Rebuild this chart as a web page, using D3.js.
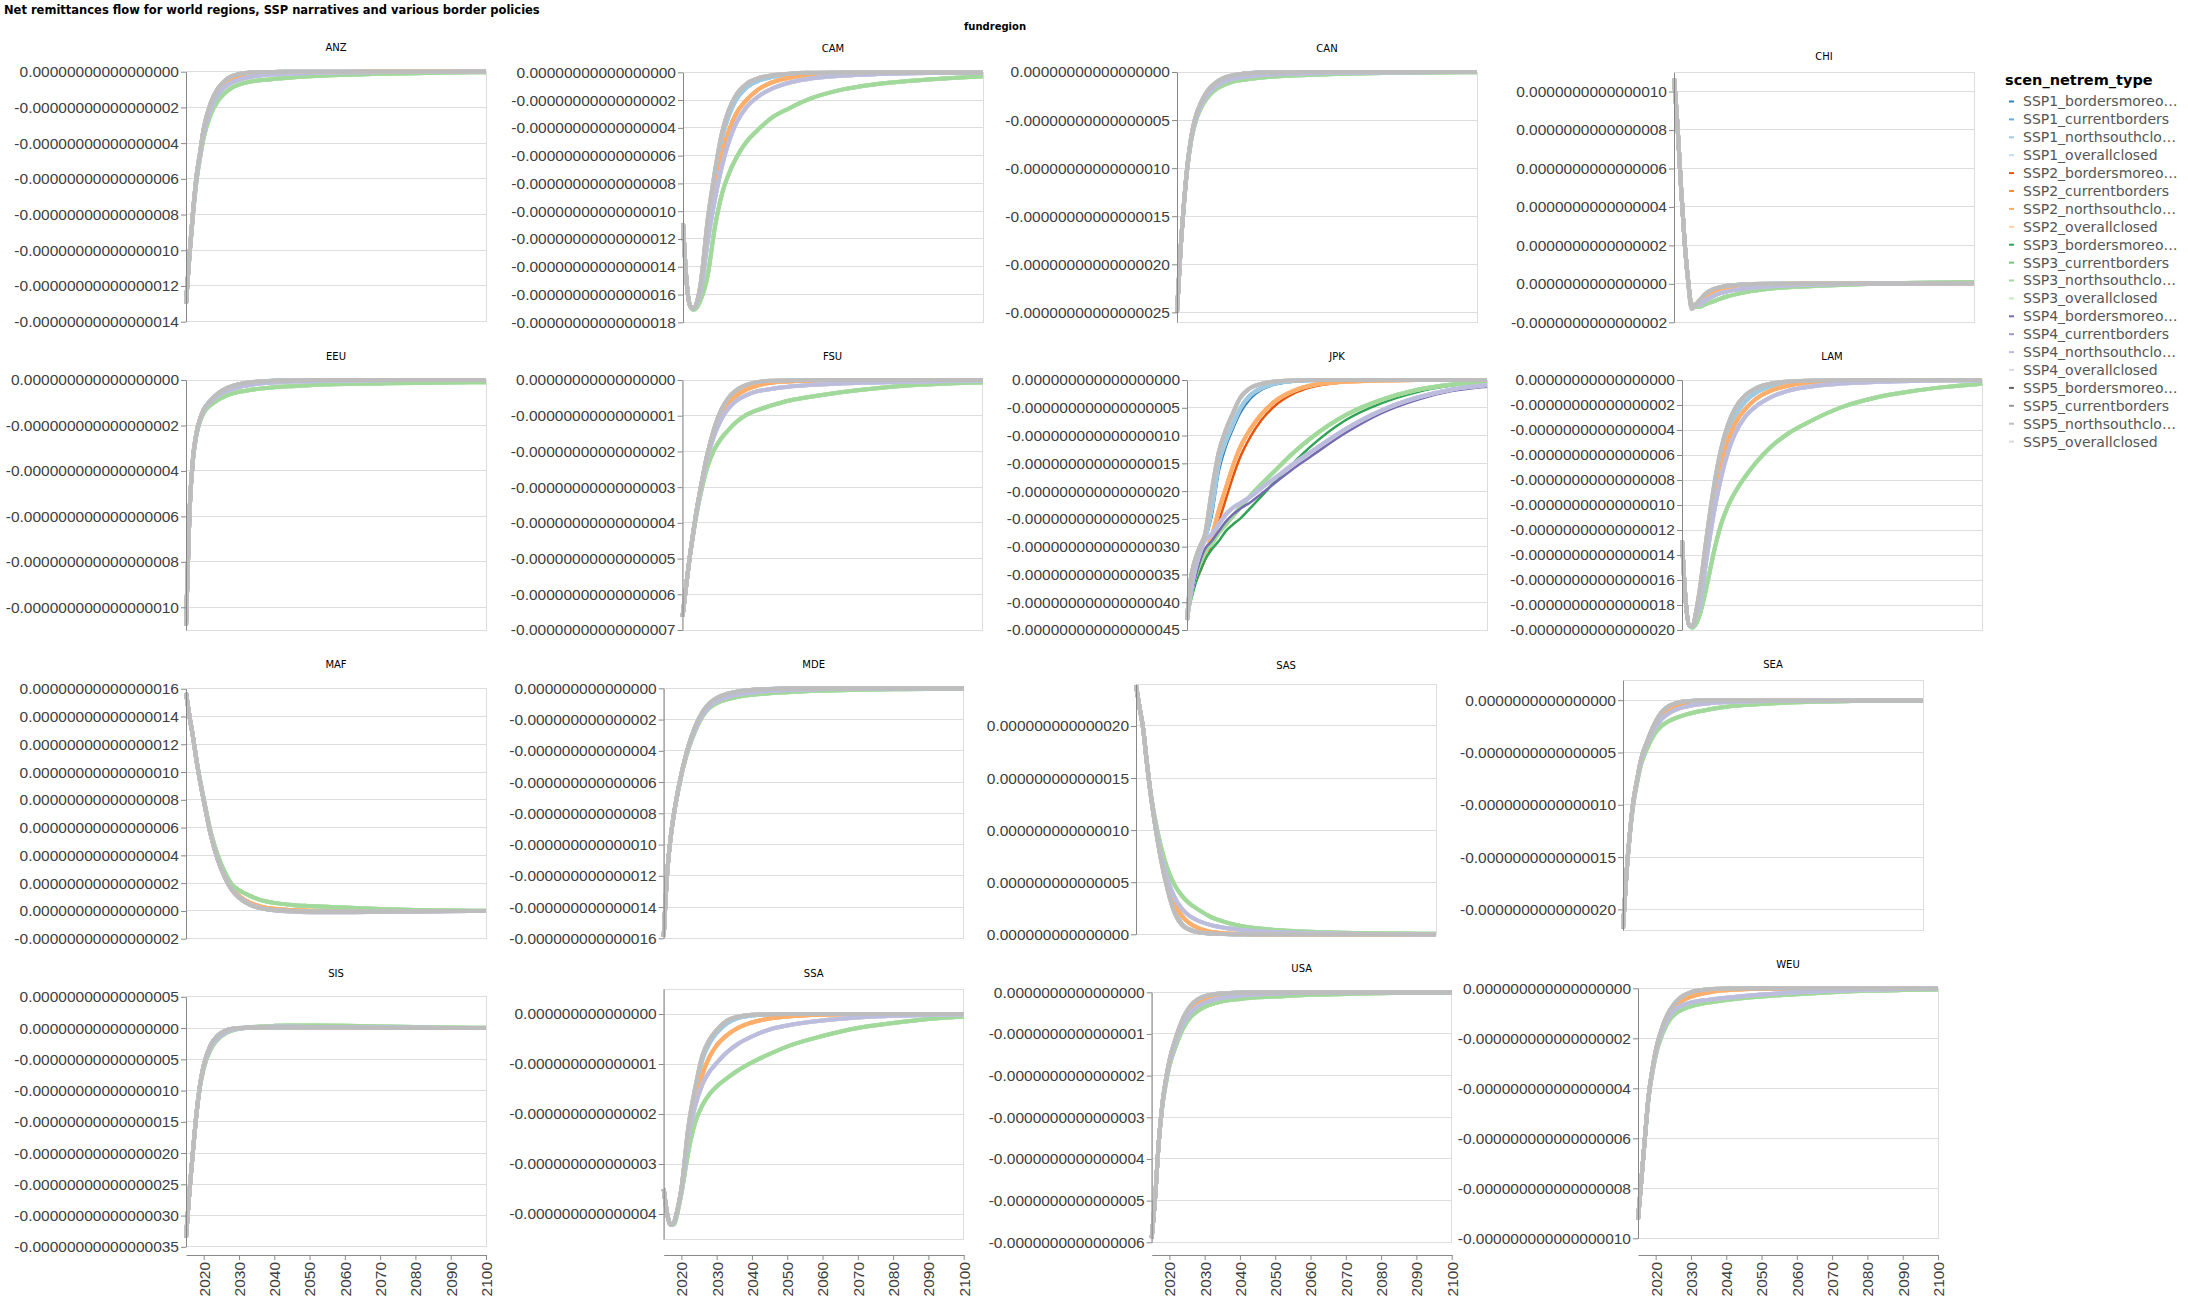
<!DOCTYPE html>
<html><head><meta charset="utf-8">
<script src="https://cdn.jsdelivr.net/npm/d3@7"></script>
<style>
body{margin:0;background:#fff;}
svg{display:block;font-family:"DejaVu Sans",Verdana,sans-serif;}
</style></head><body>
<svg id="chart" width="2188" height="1303"></svg>
<script>
// ---------- DATA ----------
// each region's arrays are expressed in that region's unit (REGION_UNIT)
const YEARS = [2015,2016,2017,2018,2019,2020, 2022,2024,2026,2028,2030,2033,2036, 2040,2045,2050,2060,2070,2080,2090,2100];
const X_TICKS = [2020,2030,2040,2050,2060,2070,2080,2090,2100];
const REGIONS = ["ANZ","CAM","CAN","CHI","EEU","FSU","JPK","LAM","MAF","MDE","SAS","SEA","SIS","SSA","USA","WEU"];
const REGION_UNIT = {ANZ:1e-16,CAM:1e-16,CAN:1e-16,CHI:1e-15,EEU:1e-17,FSU:1e-16,JPK:1e-17,LAM:1e-16,
  MAF:1e-16,MDE:1e-14,SAS:1e-14,SEA:1e-15,SIS:1e-16,SSA:1e-15,USA:1e-15,WEU:1e-17};
const SSPS = ["SSP1","SSP2","SSP3","SSP4","SSP5"];
const POLICIES = ["bordersmoreopen","currentborders","northsouthclosed","overallclosed"];
const LEGEND_LABELS = [
 "SSP1_bordersmoreo…","SSP1_currentborders","SSP1_northsouthclo…","SSP1_overallclosed",
 "SSP2_bordersmoreo…","SSP2_currentborders","SSP2_northsouthclo…","SSP2_overallclosed",
 "SSP3_bordersmoreo…","SSP3_currentborders","SSP3_northsouthclo…","SSP3_overallclosed",
 "SSP4_bordersmoreo…","SSP4_currentborders","SSP4_northsouthclo…","SSP4_overallclosed",
 "SSP5_bordersmoreo…","SSP5_currentborders","SSP5_northsouthclo…","SSP5_overallclosed"];

const ANZ_SSP1 = [-1.30,-1.02,-0.78,-0.58,-0.45,-0.32, -0.18,-0.10,-0.052,-0.027,-0.014,-0.006,-0.003, -0.001,0,0,0,0,0,0,0];
const ANZ_SSP2 = [-1.30,-1.02,-0.78,-0.59,-0.46,-0.33, -0.19,-0.115,-0.07,-0.045,-0.03,-0.017,-0.01, -0.006,-0.003,-0.002,-0.001,0,0,0,0];
const ANZ_SSP3 = [-1.30,-1.03,-0.80,-0.61,-0.48,-0.37, -0.24,-0.165,-0.12,-0.09,-0.072,-0.056,-0.048, -0.040,-0.032,-0.026,-0.018,-0.012,-0.008,-0.005,-0.003];
const ANZ_SSP4 = [-1.30,-1.02,-0.79,-0.60,-0.47,-0.35, -0.21,-0.13,-0.085,-0.06,-0.045,-0.03,-0.022, -0.015,-0.01,-0.007,-0.004,-0.002,-0.001,-0.001,0];
const ANZ_SSP5 = [-1.30,-1.02,-0.78,-0.58,-0.45,-0.32, -0.175,-0.095,-0.05,-0.025,-0.012,-0.005,-0.002, -0.001,0,0,0,0,0,0,0];

const CAM_SSP1 = [-1.09,-1.50,-1.68,-1.70,-1.65,-1.53, -1.09,-0.77,-0.48,-0.31,-0.20,-0.11,-0.065, -0.035,-0.018,-0.01,-0.003,-0.001,0,0,0];
const CAM_SSP2 = [-1.09,-1.50,-1.68,-1.70,-1.66,-1.56, -1.18,-0.86,-0.60,-0.42,-0.30,-0.20,-0.13, -0.075,-0.04,-0.02,-0.006,-0.002,0,0,0];
const CAM_SSP3 = [-1.09,-1.50,-1.68,-1.71,-1.69,-1.64, -1.46,-1.12,-0.88,-0.73,-0.62,-0.50,-0.42, -0.33,-0.26,-0.20,-0.125,-0.085,-0.06,-0.042,-0.028];
const CAM_SSP4 = [-1.09,-1.50,-1.68,-1.70,-1.66,-1.58, -1.22,-0.92,-0.68,-0.50,-0.37,-0.25,-0.18, -0.12,-0.075,-0.05,-0.025,-0.013,-0.007,-0.004,-0.002];
const CAM_SSP5 = [-1.09,-1.50,-1.68,-1.70,-1.65,-1.52, -1.06,-0.72,-0.44,-0.27,-0.165,-0.083,-0.045, -0.022,-0.01,-0.004,-0.001,0,0,0,0];

const CAN_SSP1 = [-2.50,-1.85,-1.35,-0.96,-0.69,-0.51, -0.31,-0.19,-0.115,-0.07,-0.045,-0.022,-0.011, -0.005,-0.002,-0.001,0,0,0,0,0];
const CAN_SSP2 = [-2.50,-1.85,-1.35,-0.96,-0.70,-0.52, -0.32,-0.20,-0.13,-0.085,-0.058,-0.035,-0.022, -0.013,-0.007,-0.004,-0.001,0,0,0,0];
const CAN_SSP3 = [-2.50,-1.86,-1.37,-0.98,-0.72,-0.55, -0.36,-0.25,-0.18,-0.14,-0.11,-0.085,-0.07, -0.055,-0.042,-0.033,-0.02,-0.012,-0.008,-0.005,-0.003];
const CAN_SSP4 = [-2.50,-1.85,-1.36,-0.97,-0.71,-0.53, -0.335,-0.22,-0.15,-0.105,-0.078,-0.055,-0.041, -0.03,-0.021,-0.015,-0.008,-0.004,-0.002,-0.001,0];
const CAN_SSP5 = [-2.50,-1.85,-1.35,-0.95,-0.68,-0.50, -0.30,-0.18,-0.11,-0.065,-0.04,-0.02,-0.01, -0.005,-0.002,0,0,0,0,0,0];

const CHI_SSP1 = [1.07,0.82,0.50,0.22,0.02,-0.12, -0.095,-0.055,-0.032,-0.02,-0.012,-0.006,-0.003, -0.001,0,0,0.001,0.002,0.002,0.003,0.003];
const CHI_SSP2 = [1.07,0.82,0.50,0.22,0.02,-0.11, -0.10,-0.065,-0.04,-0.026,-0.017,-0.01,-0.006, -0.003,-0.001,0,0.001,0.002,0.002,0.003,0.003];
const CHI_SSP3 = [1.07,0.82,0.50,0.22,0.02,-0.11, -0.12,-0.105,-0.092,-0.078,-0.066,-0.052,-0.04, -0.03,-0.02,-0.015,-0.007,-0.001,0.004,0.007,0.01];
const CHI_SSP4 = [1.07,0.82,0.50,0.22,0.02,-0.11, -0.11,-0.085,-0.065,-0.05,-0.04,-0.03,-0.022, -0.015,-0.01,-0.006,-0.002,0,0.002,0.003,0.004];
const CHI_SSP5 = [1.07,0.82,0.50,0.22,0.01,-0.13, -0.09,-0.05,-0.028,-0.017,-0.01,-0.005,-0.002, 0,0,0.001,0.002,0.002,0.003,0.003,0.003];

const EEU_SSP1 = [-1.08,-0.58,-0.34,-0.23,-0.17,-0.13, -0.09,-0.061,-0.041,-0.028,-0.019,-0.011,-0.007, -0.003,-0.001,0,0,0,0,0,0];
const EEU_SSP2 = [-1.08,-0.58,-0.34,-0.23,-0.17,-0.132, -0.093,-0.065,-0.046,-0.033,-0.024,-0.015,-0.01, -0.006,-0.003,-0.002,-0.001,0,0,0,0];
const EEU_SSP3 = [-1.08,-0.58,-0.35,-0.24,-0.18,-0.145, -0.11,-0.088,-0.072,-0.06,-0.052,-0.044,-0.038, -0.032,-0.027,-0.023,-0.018,-0.015,-0.013,-0.011,-0.01];
const EEU_SSP4 = [-1.08,-0.58,-0.345,-0.235,-0.172,-0.135, -0.097,-0.07,-0.052,-0.04,-0.031,-0.022,-0.016, -0.011,-0.007,-0.005,-0.003,-0.001,0,0,0];
const EEU_SSP5 = [-1.08,-0.58,-0.34,-0.23,-0.17,-0.13, -0.09,-0.06,-0.04,-0.027,-0.018,-0.01,-0.006, -0.003,-0.001,0,0,0,0,0,0];

const FSU_SSP1 = [-0.663,-0.58,-0.50,-0.43,-0.365,-0.31, -0.21,-0.14,-0.09,-0.058,-0.037,-0.02,-0.011, -0.005,-0.002,0,0,0,0,0,0];
const FSU_SSP2 = [-0.663,-0.58,-0.50,-0.43,-0.365,-0.31, -0.215,-0.145,-0.098,-0.066,-0.046,-0.027,-0.016, -0.008,-0.004,-0.002,-0.001,0,0,0,0];
const FSU_SSP3 = [-0.663,-0.58,-0.50,-0.435,-0.375,-0.325, -0.245,-0.195,-0.163,-0.14,-0.12,-0.098,-0.085, -0.072,-0.058,-0.049,-0.034,-0.023,-0.015,-0.01,-0.007];
const FSU_SSP4 = [-0.663,-0.58,-0.50,-0.43,-0.37,-0.315, -0.22,-0.155,-0.11,-0.08,-0.06,-0.043,-0.032, -0.025,-0.019,-0.015,-0.01,-0.007,-0.005,-0.003,-0.002];
const FSU_SSP5 = [-0.663,-0.58,-0.50,-0.43,-0.365,-0.31, -0.21,-0.135,-0.083,-0.05,-0.03,-0.014,-0.006, -0.002,-0.001,0,0,0,0,0,0];

const JPK_SSP1 = [-4.32,-3.65,-3.35,-3.15,-3.0,-2.85, -2.3,-1.5,-1.1,-0.8,-0.52,-0.27,-0.15, -0.06,-0.02,-0.006,0,0,0,0,0];
const JPK_SSP2 = [-4.32,-3.85,-3.6,-3.45,-3.3,-3.15, -2.82,-2.35,-1.95,-1.55,-1.22,-0.88,-0.62, -0.38,-0.2,-0.1,-0.03,-0.01,0,0,0];
const JPK_SSP3 = [-4.32,-3.9,-3.6,-3.4,-3.25,-3.1, -2.95,-2.75,-2.6,-2.45,-2.3,-2.08,-1.88, -1.63,-1.32,-1.05,-0.63,-0.36,-0.18,-0.08,-0.03];
const JPK_SSP4 = [-4.32,-3.85,-3.5,-3.25,-3.05,-2.9, -2.78,-2.6,-2.42,-2.3,-2.22,-2.1,-1.95, -1.76,-1.52,-1.3,-0.88,-0.55,-0.32,-0.17,-0.09];
const JPK_SSP5 = [-4.32,-3.6,-3.3,-3.1,-2.95,-2.8, -2.0,-1.3,-0.9,-0.6,-0.33,-0.14,-0.07, -0.025,-0.008,-0.002,0,0,0,0,0];
const JPK_SSP1_OPEN = [-4.32,-3.7,-3.4,-3.2,-3.05,-2.9, -2.45,-1.65,-1.2,-0.88,-0.6,-0.33,-0.18, -0.08,-0.03,-0.01,-0.002,0,0,0,0];
const JPK_SSP2_OPEN = [-4.32,-3.95,-3.7,-3.55,-3.4,-3.25, -2.95,-2.55,-2.15,-1.75,-1.4,-1.02,-0.73, -0.46,-0.25,-0.13,-0.04,-0.01,0,0,0];
const JPK_SSP3_OPEN = [-4.32,-4.0,-3.75,-3.55,-3.4,-3.25, -3.05,-2.9,-2.72,-2.6,-2.5,-2.3,-2.1, -1.82,-1.5,-1.2,-0.72,-0.42,-0.22,-0.1,-0.04];
const JPK_SSP4_OPEN = [-4.32,-3.95,-3.65,-3.4,-3.2,-3.05, -2.9,-2.72,-2.55,-2.42,-2.32,-2.2,-2.05, -1.85,-1.6,-1.38,-0.95,-0.6,-0.36,-0.2,-0.12];

const LAM_SSP1 = [-1.28,-1.75,-1.96,-1.97,-1.86,-1.70, -1.28,-0.90,-0.62,-0.42,-0.29,-0.17,-0.10, -0.05,-0.022,-0.01,-0.003,-0.001,0,0,0];
const LAM_SSP2 = [-1.28,-1.75,-1.96,-1.97,-1.88,-1.79, -1.37,-1.0,-0.70,-0.49,-0.35,-0.23,-0.15, -0.087,-0.046,-0.023,-0.007,-0.002,0,0,0];
const LAM_SSP3 = [-1.28,-1.75,-1.96,-1.98,-1.95,-1.88, -1.65,-1.38,-1.16,-1.01,-0.90,-0.77,-0.66, -0.54,-0.43,-0.35,-0.22,-0.14,-0.09,-0.055,-0.03];
const LAM_SSP4 = [-1.28,-1.75,-1.96,-1.97,-1.89,-1.81, -1.42,-1.07,-0.79,-0.58,-0.43,-0.29,-0.21, -0.14,-0.087,-0.058,-0.029,-0.015,-0.008,-0.005,-0.002];
const LAM_SSP5 = [-1.28,-1.75,-1.96,-1.97,-1.85,-1.68, -1.25,-0.86,-0.56,-0.36,-0.23,-0.12,-0.065, -0.03,-0.012,-0.005,-0.001,0,0,0,0];

const MAF_SSP1 = [1.57,1.40,1.25,1.08,0.93,0.80, 0.55,0.37,0.245,0.155,0.1,0.048,0.022, 0.007,0.001,-0.003,-0.004,-0.003,-0.002,-0.001,0];
const MAF_SSP2 = [1.57,1.40,1.25,1.08,0.93,0.80, 0.555,0.38,0.255,0.165,0.11,0.06,0.033, 0.015,0.006,0.002,0,0,0,0,0];
const MAF_SSP3 = [1.57,1.40,1.25,1.08,0.94,0.81, 0.57,0.40,0.28,0.19,0.15,0.11,0.08, 0.058,0.043,0.035,0.024,0.014,0.007,0.003,0.001];
const MAF_SSP4 = [1.57,1.40,1.25,1.08,0.93,0.80, 0.55,0.37,0.245,0.155,0.1,0.05,0.022, 0.005,-0.005,-0.009,-0.01,-0.007,-0.004,-0.002,-0.001];
const MAF_SSP5 = [1.57,1.40,1.25,1.08,0.93,0.80, 0.55,0.37,0.24,0.15,0.095,0.045,0.02, 0.006,0,-0.004,-0.005,-0.003,-0.002,-0.001,0];

const MDE_SSP1 = [-1.59,-1.18,-0.95,-0.79,-0.66,-0.55, -0.37,-0.245,-0.155,-0.1,-0.066,-0.038,-0.022, -0.011,-0.005,-0.002,0,0,0,0,0];
const MDE_SSP2 = [-1.59,-1.18,-0.95,-0.79,-0.66,-0.55, -0.375,-0.255,-0.165,-0.11,-0.077,-0.048,-0.03, -0.017,-0.009,-0.005,-0.002,-0.001,0,0,0];
const MDE_SSP3 = [-1.59,-1.18,-0.95,-0.79,-0.67,-0.56, -0.39,-0.27,-0.18,-0.125,-0.095,-0.07,-0.055, -0.042,-0.032,-0.025,-0.016,-0.01,-0.006,-0.004,-0.002];
const MDE_SSP4 = [-1.59,-1.18,-0.95,-0.79,-0.665,-0.555, -0.38,-0.26,-0.17,-0.115,-0.083,-0.056,-0.04, -0.027,-0.017,-0.011,-0.005,-0.002,-0.001,0,0];
const MDE_SSP5 = [-1.59,-1.18,-0.95,-0.79,-0.66,-0.55, -0.37,-0.24,-0.15,-0.095,-0.062,-0.035,-0.02, -0.01,-0.004,-0.001,0,0,0,0,0];

const SAS_SSP1 = [2.39,2.18,1.98,1.67,1.38,1.14, 0.74,0.44,0.22,0.1,0.05,0.02,0.008, 0.002,0,0,0,0,0,0,0];
const SAS_SSP2 = [2.39,2.18,1.98,1.67,1.39,1.15, 0.76,0.48,0.29,0.175,0.11,0.055,0.025, 0.01,0.004,0.001,0,0,0,0,0];
const SAS_SSP3 = [2.39,2.18,1.98,1.68,1.40,1.18, 0.85,0.62,0.47,0.37,0.30,0.23,0.17, 0.12,0.078,0.055,0.03,0.018,0.011,0.007,0.005];
const SAS_SSP4 = [2.39,2.18,1.98,1.67,1.39,1.16, 0.78,0.52,0.35,0.245,0.18,0.125,0.09, 0.062,0.042,0.028,0.014,0.007,0.004,0.002,0.001];
const SAS_SSP5 = [2.39,2.18,1.98,1.67,1.38,1.14, 0.73,0.42,0.20,0.09,0.045,0.018,0.007, 0.002,0,0,0,0,0,0,0];

const SEA_SSP1 = [-2.18,-1.65,-1.25,-0.95,-0.76,-0.58, -0.38,-0.225,-0.115,-0.058,-0.03,-0.012,-0.005, -0.001,0,0,0,0,0,0,0];
const SEA_SSP2 = [-2.18,-1.65,-1.25,-0.95,-0.76,-0.59, -0.40,-0.25,-0.15,-0.09,-0.055,-0.028,-0.015, -0.007,-0.003,-0.001,0,0,0,0,0];
const SEA_SSP3 = [-2.18,-1.66,-1.27,-0.98,-0.79,-0.63, -0.45,-0.32,-0.245,-0.2,-0.17,-0.135,-0.11, -0.085,-0.06,-0.045,-0.026,-0.015,-0.009,-0.005,-0.003];
const SEA_SSP4 = [-2.18,-1.65,-1.26,-0.96,-0.77,-0.60, -0.41,-0.27,-0.18,-0.125,-0.09,-0.06,-0.042, -0.028,-0.018,-0.012,-0.006,-0.003,-0.001,0,0];
const SEA_SSP5 = [-2.18,-1.65,-1.25,-0.95,-0.76,-0.58, -0.38,-0.22,-0.11,-0.055,-0.028,-0.01,-0.004, -0.001,0,0,0,0,0,0,0];

const SIS_SSP1 = [-3.35,-2.6,-1.95,-1.35,-0.9,-0.6, -0.27,-0.12,-0.05,-0.015,0,0.008,0.01, 0.01,0.008,0.006,0.004,0.002,0.001,0,0];
const SIS_SSP2 = [-3.35,-2.6,-1.95,-1.35,-0.9,-0.61, -0.29,-0.14,-0.065,-0.025,-0.005,0.008,0.014, 0.016,0.016,0.014,0.01,0.006,0.003,0.002,0.001];
const SIS_SSP3 = [-3.35,-2.6,-1.96,-1.37,-0.93,-0.65, -0.34,-0.18,-0.09,-0.04,-0.01,0.01,0.025, 0.035,0.04,0.04,0.035,0.025,0.015,0.008,0.004];
const SIS_SSP4 = [-3.35,-2.6,-1.95,-1.36,-0.91,-0.62, -0.31,-0.16,-0.075,-0.03,-0.008,0.008,0.016, 0.02,0.02,0.018,0.013,0.008,0.004,0.002,0.001];
const SIS_SSP5 = [-3.35,-2.6,-1.95,-1.35,-0.9,-0.6, -0.27,-0.12,-0.045,-0.012,0,0.006,0.008, 0.008,0.006,0.005,0.003,0.002,0.001,0,0];

const SSA_SSP1 = [-3.5,-4.0,-4.22,-4.15,-3.88,-3.5, -2.3,-1.52,-0.9,-0.58,-0.38,-0.18,-0.08, -0.03,-0.01,-0.003,0,0,0,0,0];
const SSA_SSP2 = [-3.5,-4.0,-4.22,-4.16,-3.9,-3.55, -2.4,-1.7,-1.2,-0.85,-0.63,-0.42,-0.28, -0.17,-0.09,-0.05,-0.015,-0.005,0,0,0];
const SSA_SSP3 = [-3.5,-4.0,-4.22,-4.2,-3.95,-3.6, -2.75,-2.15,-1.82,-1.6,-1.45,-1.28,-1.13, -0.97,-0.8,-0.65,-0.44,-0.28,-0.18,-0.1,-0.05];
const SSA_SSP4 = [-3.5,-4.0,-4.22,-4.16,-3.9,-3.56, -2.45,-1.82,-1.4,-1.15,-0.98,-0.76,-0.6, -0.45,-0.31,-0.23,-0.13,-0.07,-0.035,-0.018,-0.01];
const SSA_SSP5 = [-3.5,-4.0,-4.22,-4.15,-3.88,-3.5, -2.25,-1.45,-0.82,-0.51,-0.32,-0.13,-0.055, -0.015,-0.004,0,0,0,0,0,0];

const USA_SSP1 = [-0.59,-0.49,-0.36,-0.27,-0.21,-0.165, -0.106,-0.062,-0.034,-0.019,-0.01,-0.005,-0.002, -0.001,0,0,0,0,0,0,0];
const USA_SSP2 = [-0.59,-0.49,-0.36,-0.27,-0.212,-0.168, -0.11,-0.068,-0.04,-0.024,-0.015,-0.008,-0.004, -0.002,-0.001,0,0,0,0,0,0];
const USA_SSP3 = [-0.59,-0.49,-0.36,-0.275,-0.22,-0.178, -0.125,-0.085,-0.06,-0.045,-0.035,-0.026,-0.02, -0.016,-0.012,-0.01,-0.006,-0.004,-0.002,-0.001,-0.001];
const USA_SSP4 = [-0.59,-0.49,-0.36,-0.272,-0.215,-0.172, -0.115,-0.075,-0.05,-0.034,-0.025,-0.017,-0.012, -0.008,-0.005,-0.003,-0.001,0,0,0,0];
const USA_SSP5 = [-0.59,-0.49,-0.36,-0.27,-0.21,-0.165, -0.105,-0.06,-0.032,-0.017,-0.009,-0.004,-0.002, -0.001,0,0,0,0,0,0,0];

const WEU_SSP1 = [-0.925,-0.76,-0.59,-0.43,-0.33,-0.25, -0.155,-0.095,-0.058,-0.035,-0.02,-0.01,-0.005, -0.002,0,0,0,0,0,0,0];
const WEU_SSP2 = [-0.925,-0.76,-0.59,-0.43,-0.335,-0.255, -0.16,-0.1,-0.065,-0.046,-0.034,-0.022,-0.014, -0.008,-0.004,-0.002,0,0,0,0,0];
const WEU_SSP3 = [-0.925,-0.76,-0.595,-0.44,-0.345,-0.27, -0.18,-0.125,-0.097,-0.082,-0.072,-0.062,-0.055, -0.047,-0.039,-0.033,-0.024,-0.016,-0.01,-0.007,-0.005];
const WEU_SSP4 = [-0.925,-0.76,-0.59,-0.435,-0.34,-0.26, -0.165,-0.11,-0.08,-0.065,-0.057,-0.049,-0.044, -0.038,-0.031,-0.025,-0.016,-0.01,-0.006,-0.003,-0.002];
const WEU_SSP5 = [-0.925,-0.76,-0.59,-0.43,-0.33,-0.25, -0.15,-0.088,-0.05,-0.028,-0.015,-0.007,-0.003, -0.001,0,0,0,0,0,0,0];

// table built from the arrays
const DATA = {
  ANZ:[ANZ_SSP1,ANZ_SSP2,ANZ_SSP3,ANZ_SSP4,ANZ_SSP5], CAM:[CAM_SSP1,CAM_SSP2,CAM_SSP3,CAM_SSP4,CAM_SSP5],
  CAN:[CAN_SSP1,CAN_SSP2,CAN_SSP3,CAN_SSP4,CAN_SSP5], CHI:[CHI_SSP1,CHI_SSP2,CHI_SSP3,CHI_SSP4,CHI_SSP5],
  EEU:[EEU_SSP1,EEU_SSP2,EEU_SSP3,EEU_SSP4,EEU_SSP5], FSU:[FSU_SSP1,FSU_SSP2,FSU_SSP3,FSU_SSP4,FSU_SSP5],
  JPK:[JPK_SSP1,JPK_SSP2,JPK_SSP3,JPK_SSP4,JPK_SSP5], LAM:[LAM_SSP1,LAM_SSP2,LAM_SSP3,LAM_SSP4,LAM_SSP5],
  MAF:[MAF_SSP1,MAF_SSP2,MAF_SSP3,MAF_SSP4,MAF_SSP5], MDE:[MDE_SSP1,MDE_SSP2,MDE_SSP3,MDE_SSP4,MDE_SSP5],
  SAS:[SAS_SSP1,SAS_SSP2,SAS_SSP3,SAS_SSP4,SAS_SSP5], SEA:[SEA_SSP1,SEA_SSP2,SEA_SSP3,SEA_SSP4,SEA_SSP5],
  SIS:[SIS_SSP1,SIS_SSP2,SIS_SSP3,SIS_SSP4,SIS_SSP5], SSA:[SSA_SSP1,SSA_SSP2,SSA_SSP3,SSA_SSP4,SSA_SSP5],
  USA:[USA_SSP1,USA_SSP2,USA_SSP3,USA_SSP4,USA_SSP5], WEU:[WEU_SSP1,WEU_SSP2,WEU_SSP3,WEU_SSP4,WEU_SSP5]
};
const OPEN_DATA = { JPK:[JPK_SSP1_OPEN,JPK_SSP2_OPEN,JPK_SSP3_OPEN,JPK_SSP4_OPEN,null] };

// ---------- LAYOUT / STYLE ----------
const Y_DOMAINS = {ANZ:[-1.4,0],CAM:[-1.8,0],CAN:[-2.6,0],CHI:[-0.2,1.1],EEU:[-1.1,0],FSU:[-0.7,0],JPK:[-4.5,0],LAM:[-2.0,0],
  MAF:[-0.2,1.6],MDE:[-1.6,0],SAS:[0,2.4],SEA:[-2.2,0.19],SIS:[-3.5,0.5],SSA:[-4.5,0.5],USA:[-0.6,0],WEU:[-1.0,0]};
const LAYOUT = {
  ANZ:{x:186,y:71.7,ty:47.5}, CAM:{x:683,y:72.3,ty:48}, CAN:{x:1177,y:72,ty:48}, CHI:{x:1674,y:72.3,ty:56.5},
  EEU:{x:186,y:380,ty:356.5}, FSU:{x:682.5,y:380,ty:356.5}, JPK:{x:1187,y:380,ty:356.7}, LAM:{x:1682,y:380,ty:356.5},
  MAF:{x:186,y:688.7,ty:664.6}, MDE:{x:663.7,y:688.3,ty:664.6}, SAS:{x:1136,y:684.3,ty:665}, SEA:{x:1623,y:680.3,ty:664.6},
  SIS:{x:186,y:996.8,ty:973}, SSA:{x:663.7,y:989,ty:973}, USA:{x:1151.7,y:992.3,ty:968.3}, WEU:{x:1638,y:988.3,ty:964.6}
};
const BOTTOM_ROW = ["SIS","SSA","USA","WEU"];
const X_AXIS_Y = 1255;
const W = 300, H = 250;
const AXIS_FONT = '"Liberation Sans",Arial,sans-serif';
const COLORS = ["#3182bd","#6baed6","#9ecae1","#c6dbef","#e6550d","#fd8d3c","#fdae6b","#fdd0a2",
  "#31a354","#74c476","#a1d99b","#c7e9c0","#756bb1","#9e9ac8","#bcbddc","#dadaeb",
  "#636363","#969696","#bdbdbd","#d9d9d9"];
const DRAW_ORDER = [0,1,3,2];

Object.values(DATA).forEach(a=>a.forEach(s=>{ if(s.length!==YEARS.length) throw new Error("bad length"); }));

const locale = d3.formatLocale({decimal:".",thousands:",",grouping:[3],currency:["$",""],minus:"-"});

const svg = d3.select("#chart");
svg.append("rect").attr("width",2188).attr("height",1303).attr("fill","#fff");

svg.append("text").attr("x",4).attr("y",14).attr("font-size",11.5).attr("font-weight","bold").attr("fill","#000")
  .text("Net remittances flow for world regions, SSP narratives and various border policies");
svg.append("text").attr("x",995).attr("y",30).attr("text-anchor","middle").attr("font-size",10).attr("font-weight","bold").attr("fill","#000")
  .text("fundregion");

const x = d3.scaleLinear().domain([2015,2100]).range([0,W]);

REGIONS.forEach(r => {
  const L = LAYOUT[r];
  const unit = REGION_UNIT[r];
  const dom = Y_DOMAINS[r];
  const y = d3.scaleLinear().domain(dom).range([H,0]);
  const ticks = y.ticks(7);
  const prec = d3.precisionFixed(d3.tickStep(dom[0], dom[1], 7) * unit);
  const f = locale.format(`.${prec}f`);
  const fmt = v => f(v === 0 ? 0 : v * unit);

  const g = svg.append("g").attr("transform",`translate(${L.x},${L.y})`);
  g.selectAll("line.grid").data(ticks).join("line").attr("class","grid")
    .attr("x1",0).attr("x2",W).attr("y1",d=>y(d)).attr("y2",d=>y(d))
    .attr("stroke","#ddd").attr("stroke-width",1).attr("shape-rendering","crispEdges");
  g.append("rect").attr("width",W).attr("height",H).attr("fill","none").attr("stroke","#ddd").attr("shape-rendering","crispEdges");

  const line = d3.line().x((d,i)=>x(YEARS[i])).y(d=>y(d)).curve(d3.curveMonotoneX);
  SSPS.forEach((ssp,si)=>{
    DRAW_ORDER.forEach(pi=>{
      const open = OPEN_DATA[r] && OPEN_DATA[r][si];
      const vals = (pi===0 && open) ? open : DATA[r][si];
      g.append("path").attr("d",line(vals)).attr("fill","none")
        .attr("stroke",COLORS[si*4+pi]).attr("stroke-width", pi===0 ? 2.5 : 4)
        .attr("stroke-linejoin","round");
    });
  });

  const ax = g.append("g").call(d3.axisLeft(y).tickValues(ticks).tickSize(5).tickSizeOuter(0).tickPadding(2).tickFormat(fmt));
  ax.select(".domain").attr("stroke","#888");
  ax.selectAll(".tick line").attr("stroke","#888");
  ax.selectAll(".tick text").attr("font-size",15.5).attr("fill","#404040").attr("font-family",AXIS_FONT);

  svg.append("text").attr("x",L.x+W/2).attr("y",L.ty+3.5).attr("text-anchor","middle")
    .attr("font-size",10).attr("fill","#000").text(r);

  if (BOTTOM_ROW.includes(r)) {
    const xa = svg.append("g").attr("transform",`translate(${L.x},${X_AXIS_Y})`)
      .call(d3.axisBottom(x).tickValues(X_TICKS).tickSize(5).tickSizeOuter(0).tickFormat(d3.format("d")));
    xa.select(".domain").attr("stroke","#888");
    xa.selectAll(".tick line").attr("stroke","#888");
    xa.selectAll(".tick text").attr("font-size",15.5).attr("fill","#404040").attr("font-family",AXIS_FONT)
      .attr("transform","rotate(-90)").attr("text-anchor","end").attr("x",-7).attr("y",0).attr("dy","0.35em");
  }
});

// legend
const lg = svg.append("g").attr("transform","translate(2005,0)");
lg.append("text").attr("x",0).attr("y",85).attr("font-size",14.5).attr("font-weight","bold").attr("fill","#000").text("scen_netrem_type");
LEGEND_LABELS.forEach((lab,i)=>{
  const yy = 101.5 + i*17.9;
  lg.append("line").attr("x1",4).attr("x2",9).attr("y1",yy).attr("y2",yy).attr("stroke",COLORS[i]).attr("stroke-width",2);
  lg.append("text").attr("x",18).attr("y",yy).attr("dy","0.35em").attr("font-size",14).attr("fill","#555").text(lab);
});
</script>
</body></html>
